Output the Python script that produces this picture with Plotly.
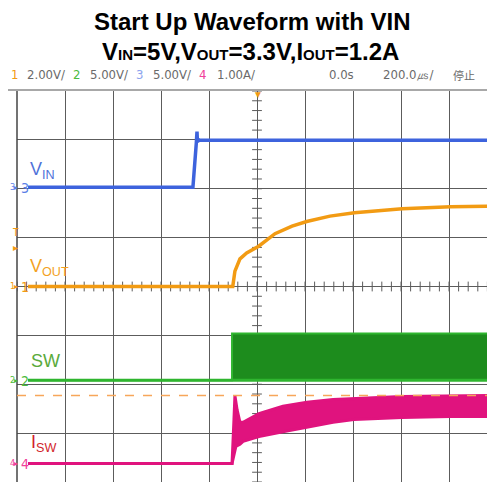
import numpy as np
import plotly.graph_objects as go

# time in microseconds (200 us/div, trigger at 0)
vin_t = [-954, -267, -253, -250, -248, -245, -240, 992]
vin_v = [0.0, 0.0, 4.5, 5.7, 4.6, 4.9, 4.8, 4.8]

vout_t = [-954, -101, -92, -71, -43, 7, 75, 146, 207, 304, 406, 512, 605, 807, 992]
vout_v = [0.0, 0.0, 0.63, 1.13, 1.37, 1.65, 2.16, 2.47, 2.66, 2.88, 3.02, 3.11, 3.18, 3.26, 3.29]

sw_t = [-954, -104, 992]
sw_lo = [0.0, 0.0, 0.0]
sw_hi = [0.0, 4.8, 4.8]

isw_lo_t = [-954, -104, -88, -71, -58, 8, 108, 208, 317, 404, 604, 804, 992]
isw_lo = [0.0, 0.0, 0.35, 0.39, 0.45, 0.55, 0.65, 0.74, 0.84, 0.90, 0.94, 0.96, 0.96]
isw_hi_t = [-954, -104, -96, -92, -83, -71, -58, 8, 108, 208, 317, 404, 604, 992]
isw_hi = [0.0, 0.0, 0.90, 1.39, 1.10, 0.84, 0.84, 1.02, 1.17, 1.25, 1.31, 1.33, 1.37, 1.39]
cursor_level = 1.39

# screen geometry (pixels); the page body adds an 8px margin
OFF = 8
L, R, T, B = 17, 495, 91, 482
W, H = R - L, B - T
DIVX = 48.0
def px(x): return (x - L) / W
def py(y): return (B - y) / H

# channel scale (units/div) and ground position (div from centre)
chans = {
    'y2': (5.0, 2.03),    # ch3 VIN
    'y3': (2.0, 0.0),     # ch1 VOUT
    'y4': (5.0, -1.92),   # ch2 SW
    'y5': (1.0, -3.62),   # ch4 ISW
}

C_VIN, C_VOUT, C_SW, C_SWF, C_ISW = '#3d63dd', '#f29b13', '#2fb52f', '#1d8c1d', '#e0137e'
GRID = '#5c5c5c'

fig = go.Figure()

# centre-line minor ticks
fig.add_trace(go.Scatter(x=np.arange(-1000, 992, 40), y=np.zeros(50), mode='markers',
                         marker=dict(symbol='line-ns', size=7, line=dict(width=1, color=GRID)),
                         hoverinfo='skip', showlegend=False))
fig.add_trace(go.Scatter(x=np.zeros(41), y=np.arange(-4, 4.01, 0.2), mode='markers',
                         marker=dict(symbol='line-ew', size=7, line=dict(width=1, color=GRID)),
                         hoverinfo='skip', showlegend=False))

# ISW band
fig.add_trace(go.Scatter(x=isw_lo_t, y=isw_lo, yaxis='y5', mode='lines',
                         line=dict(color=C_ISW, width=3), showlegend=False))
fig.add_trace(go.Scatter(x=isw_hi_t, y=isw_hi, yaxis='y5', mode='lines', fill='tonexty',
                         fillcolor=C_ISW, line=dict(color=C_ISW, width=3), showlegend=False))
# SW band
fig.add_trace(go.Scatter(x=sw_t, y=sw_lo, yaxis='y4', mode='lines', line_shape='hv',
                         line=dict(color=C_SW, width=3), showlegend=False))
fig.add_trace(go.Scatter(x=sw_t, y=sw_hi, yaxis='y4', mode='lines', line_shape='hv', fill='tonexty',
                         fillcolor=C_SWF, line=dict(color=C_SW, width=2), showlegend=False))
# VOUT
fig.add_trace(go.Scatter(x=vout_t, y=vout_v, yaxis='y3', mode='lines',
                         line=dict(color=C_VOUT, width=3.5), showlegend=False))
# VIN
fig.add_trace(go.Scatter(x=vin_t, y=vin_v, yaxis='y2', mode='lines',
                         line=dict(color=C_VIN, width=3.5), showlegend=False))

layout_axes = {}
for name, (scale, gnd) in chans.items():
    layout_axes['yaxis' + name[1:]] = dict(overlaying='y', visible=False,
                                           range=[(-4 - gnd) * scale, (4 - gnd) * scale])

fig.update_layout(
    width=495 - OFF, height=483 - OFF,
    margin=dict(l=L - OFF, r=0, t=T - OFF, b=483 - B),
    paper_bgcolor='white', plot_bgcolor='white',
    xaxis=dict(range=[-1000, -1000 + W / DIVX * 200], tick0=-1000, dtick=200,
               showgrid=True, gridcolor=GRID, gridwidth=1, zeroline=False,
               showticklabels=False, ticks=''),
    yaxis=dict(range=[-4, 4], dtick=1, showgrid=True, gridcolor=GRID, gridwidth=1,
               zeroline=False, showticklabels=False, ticks=''),
    **layout_axes,
)

# borders and cursor
fig.add_shape(type='line', xref='paper', yref='paper', x0=px(OFF), x1=1, y0=py(90), y1=py(90),
              line=dict(color='#a8a8a8', width=2))
fig.add_shape(type='line', xref='paper', yref='paper', x0=0, x1=0, y0=0, y1=1,
              line=dict(color='#444444', width=1.5))
fig.add_shape(type='line', xref='paper', yref='y5', x0=0, x1=1, y0=cursor_level, y1=cursor_level,
              line=dict(color='#f7a65a', width=1.5, dash='dash'), layer='above')

ann = []
def text(x, y, s, color, size, family='Liberation Sans, Arial, sans-serif', anchor='left'):
    ann.append(dict(x=px(x), y=py(y), xref='paper', yref='paper', text=s, showarrow=False,
                    xanchor=anchor, yanchor='middle', font=dict(color=color, size=size, family=family)))

NARROW = 'Liberation Sans Narrow, DejaVu Sans Condensed, Arial Narrow, sans-serif'
TITLE = 'Liberation Sans Narrow, Arial Narrow, Liberation Sans, sans-serif'
text(252, 21, '<b>Start Up Waveform with VIN</b>', 'black', 24, TITLE, 'center')
text(250, 51, '<b>V<span style="font-size:15px">IN</span>=5V,V<span style="font-size:15px">OUT</span>'
     '=3.3V,I<span style="font-size:15px">OUT</span>=1.2A</b>', 'black', 24, TITLE, 'center')

# header row
GRAY = '#6a6a6a'
header = [('1', 9, C_VOUT), ('2.00V/', 25, GRAY), ('2', 71, '#4cbb3c'), ('5.00V/', 88, GRAY),
          ('3', 134, '#8ea4ee'), ('5.00V/', 151, GRAY), ('4', 197, '#f0409a'), ('1.00A/', 215, GRAY),
          ('0.0s', 327, GRAY), ('200.0㎲/', 381, GRAY)]
for s, x, c in header:
    text(x, 75, s, c, 13, NARROW)
text(451, 75, '停止', GRAY, 11, 'Noto Sans CJK SC, sans-serif')

# channel markers on the left
for num, y, c in [('3', 188, '#5b7fe6'), ('1', 287, C_VOUT), ('2', 381, '#4cbb3c'), ('4', 464, '#f0409a')]:
    text(8, y - 1, num, c, 9, NARROW)
    text(12, y - 1, '▸', c, 8)
    text(19, y, num, c, 14, NARROW)
text(10, 232, 'T', C_VOUT, 10, NARROW)
text(11, 247, '▸', C_VOUT, 10)
text(258, 95, '▼', C_VOUT, 10, anchor='center')

# trace labels
text(28, 170, 'V<sub>IN</sub>', '#4f72d9', 18)
text(28, 267, 'V<sub>OUT</sub>', '#f3a21f', 18)
text(29, 361, 'SW', '#5aaa3c', 18)
text(29, 443, 'I<sub>SW</sub>', '#d21f2b', 18)

fig.update_layout(annotations=ann)
fig.write_html('out.html')
